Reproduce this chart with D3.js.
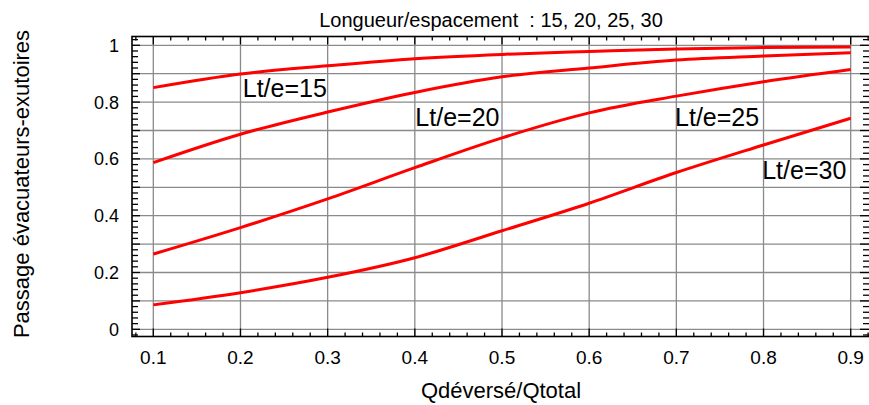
<!DOCTYPE html>
<html>
<head>
<meta charset="utf-8">
<script src="https://cdn.jsdelivr.net/npm/d3@7"></script>
<style>
  html, body { margin: 0; padding: 0; background: #fff; }
  svg { display: block; }
  text { font-family: "Liberation Sans", Arial, Helvetica, sans-serif; fill: #000; }
</style>
</head>
<body>
<svg id="chart" width="869" height="405"></svg>
<script>
// Qdéversé/Qtotal sample points
const ratios = [0.1, 0.2, 0.3, 0.4, 0.5, 0.6, 0.7, 0.8, 0.9];

// Passage évacuateurs-exutoires for each length/spacing ratio
const lt15 = [0.851, 0.899, 0.928, 0.953, 0.968, 0.978, 0.987, 0.992, 0.994];
const lt20 = [0.587, 0.687, 0.765, 0.834, 0.889, 0.920, 0.948, 0.962, 0.974];
const lt25 = [0.265, 0.358, 0.459, 0.569, 0.674, 0.762, 0.821, 0.872, 0.915];
const lt30 = [0.086, 0.129, 0.183, 0.252, 0.347, 0.444, 0.552, 0.649, 0.743];

const seriesNames = ["Lt/e=15", "Lt/e=20", "Lt/e=25", "Lt/e=30"];
const seriesValues = [lt15, lt20, lt25, lt30];

// curve label anchors, in data units (x ratio, passage)
const labelX = [0.2026, 0.4006, 0.6985, 0.7985];
const labelY = [0.818, 0.716, 0.716, 0.528];

const xTicks = [0.1, 0.2, 0.3, 0.4, 0.5, 0.6, 0.7, 0.8, 0.9];
const yTicks = [0, 0.2, 0.4, 0.6, 0.8, 1];

const title = "Longueur/espacement  : 15, 20, 25, 30";
const xTitle = "Qdéversé/Qtotal";
const yTitle = "Passage évacuateurs-exutoires";

const svg = d3.select("#chart");

// plot frame (right edge runs just past the page)
const frame = { left: 132, right: 871, top: 36.5, bottom: 336.5 };

const x = d3.scaleLinear().domain([0.1, 0.9]).range([153.3, 850.7]);
const y = d3.scaleLinear().domain([0, 1]).range([329.3, 45.3]);

const xMin = x.invert(frame.left), xMax = x.invert(frame.right);
const yMin = y.invert(frame.bottom), yMax = y.invert(frame.top);

// grid
const grid = svg.append("g").attr("stroke", "#8a8a8a").attr("stroke-width", 1.3);
d3.range(1, 10).map(i => i / 10).forEach(v => {
  grid.append("line").attr("x1", x(v)).attr("x2", x(v))
    .attr("y1", frame.top).attr("y2", frame.bottom);
});
d3.range(0, 11).map(i => i / 10).forEach(v => {
  grid.append("line").attr("x1", frame.left).attr("x2", frame.right)
    .attr("y1", y(v)).attr("y2", y(v));
});

// frame lines
const axes = svg.append("g").attr("stroke", "#000").attr("stroke-width", 1.6).attr("fill", "none");
axes.append("rect")
  .attr("x", frame.left).attr("y", frame.top)
  .attr("width", frame.right - frame.left).attr("height", frame.bottom - frame.top);

// inward ticks on all four sides: majors every 0.1, minors every 0.02
const tickG = svg.append("g").attr("stroke", "#000").attr("stroke-width", 1.3);
const xt = d3.range(Math.ceil(xMin * 50), Math.floor(xMax * 50) + 1).map(i => i / 50);
xt.forEach(v => {
  const major = Math.abs(v * 10 - Math.round(v * 10)) < 1e-6;
  const len = major ? 8 : 4;
  tickG.append("line").attr("x1", x(v)).attr("x2", x(v))
    .attr("y1", frame.bottom).attr("y2", frame.bottom - len);
  tickG.append("line").attr("x1", x(v)).attr("x2", x(v))
    .attr("y1", frame.top).attr("y2", frame.top + len);
});
const yt = d3.range(Math.ceil(yMin * 50), Math.floor(yMax * 50) + 1).map(i => i / 50);
yt.forEach(v => {
  const major = Math.abs(v * 10 - Math.round(v * 10)) < 1e-6;
  tickG.append("line").attr("x1", frame.left).attr("x2", frame.left + (major ? 8 : 6))
    .attr("y1", y(v)).attr("y2", y(v));
  tickG.append("line").attr("x1", frame.right).attr("x2", frame.right - (major ? 11 : 8))
    .attr("y1", y(v)).attr("y2", y(v));
});

// tick labels
svg.append("g").selectAll("text").data(xTicks).join("text")
  .attr("x", d => x(d)).attr("y", 364)
  .attr("text-anchor", "middle").attr("font-size", 19)
  .text(d => d3.format(".1f")(d));
svg.append("g").selectAll("text").data(yTicks).join("text")
  .attr("x", 119).attr("y", d => y(d)).attr("dy", "0.36em")
  .attr("text-anchor", "end").attr("font-size", 18)
  .text(d => d3.format("~g")(d));

// curves
const line = d3.line().x(d => x(d[0])).y(d => y(d[1])).curve(d3.curveMonotoneX);
svg.append("g").selectAll("path").data(seriesValues).join("path")
  .attr("d", vals => line(ratios.map((r, i) => [r, vals[i]])))
  .attr("fill", "none").attr("stroke", "#ff0000").attr("stroke-width", 3)
  .attr("stroke-linejoin", "round").attr("stroke-linecap", "butt");

// curve labels
svg.append("g").selectAll("text").data(seriesNames).join("text")
  .attr("x", (d, i) => x(labelX[i])).attr("y", (d, i) => y(labelY[i]))
  .attr("font-size", 25).text(d => d);

// titles
svg.append("text").attr("x", 491).attr("y", 27).attr("text-anchor", "middle")
  .attr("font-size", 20).style("white-space", "pre").text(title);
svg.append("text").attr("x", 501).attr("y", 398).attr("text-anchor", "middle")
  .attr("font-size", 22).text(xTitle);
svg.append("text").attr("transform", "translate(29,184) rotate(-90)")
  .attr("text-anchor", "middle").attr("font-size", 22).text(yTitle);
</script>
</body>
</html>
